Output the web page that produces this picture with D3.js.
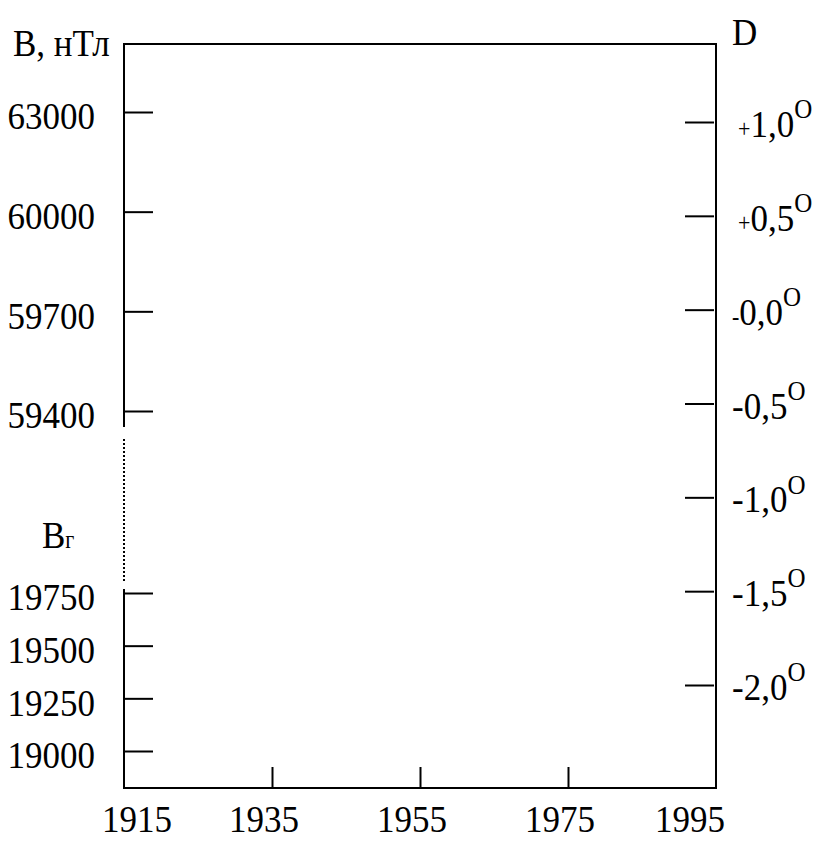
<!DOCTYPE html>
<html>
<head>
<meta charset="utf-8">
<script src="https://cdn.jsdelivr.net/npm/d3@7"></script>
<style>
  body { margin: 0; background: #fff; }
  svg { display: block; }
  text { font-family: "Liberation Serif", "Times New Roman", serif; fill: #000; }
</style>
</head>
<body>
<svg id="chart" width="817" height="851"></svg>
<script>
// данные осей
var years = [1915, 1935, 1955, 1975, 1995];
var yearTicks = [1935, 1955, 1975];
var bUpper = ["63000", "60000", "59700", "59400"];
var bLower = [19750, 19500, 19250, 19000];
var dValues = [1, 0.5, 0, -0.5, -1, -1.5, -2];
var dLabels = ["+1,0", "+0,5", "-0,0", "-0,5", "-1,0", "-1,5", "-2,0"];

var svg = d3.select("#chart");
var x0 = 124, x1 = 716, y0 = 44, y1 = 788;
var fs = 35;
var stretch = " scale(1,1.1)";   // шрифт в оригинале вытянут по вертикали

var x = d3.scaleLinear().domain([1915, 1995]).range([x0, x1]);
var yUp = d3.scalePoint().domain(bUpper).range([112, 411]);
var yLow = d3.scaleLinear().domain([19000, 19750]).range([751, 593]);
var yD = d3.scaleLinear().domain([-2, 1]).range([685, 122]);

// рамка
var frame = svg.append("g").attr("stroke", "#000").attr("stroke-width", 2).attr("fill", "none");
frame.append("path").attr("d", "M" + x0 + "," + y0 + "H" + x1 + "V" + y1 + "H" + x0);
frame.append("line").attr("x1", x0).attr("x2", x0).attr("y1", y0 - 1).attr("y2", 427);
frame.append("line").attr("x1", x0).attr("x2", x0).attr("y1", 589).attr("y2", y1 + 1);
frame.append("line").attr("x1", x0).attr("x2", x0).attr("y1", 439).attr("y2", 582)
    .attr("stroke-dasharray", "2,2");

function styleAxis(g) {
    g.select(".domain").remove();
    g.selectAll(".tick line").attr("stroke", "#000").attr("stroke-width", 2);
    g.selectAll(".tick text").attr("font-size", fs).attr("fill", "#000")
        .attr("font-family", "Liberation Serif, serif")
        .attr("dy", "0.44em")
        .attr("transform", stretch);
}

// левая ось, B
svg.append("g").attr("transform", "translate(" + x0 + ",0)")
    .call(d3.axisLeft(yUp).tickSize(-29).tickPadding(29))
    .call(styleAxis);

svg.append("g").attr("transform", "translate(" + x0 + ",0)")
    .call(d3.axisLeft(yLow).tickValues(bLower).tickFormat(d3.format("d")).tickSize(-29).tickPadding(29))
    .call(styleAxis);

// правая ось, D
svg.append("g").attr("transform", "translate(" + (x1 - 2) + ",0)")
    .call(d3.axisRight(yD).tickValues(dValues).tickFormat("").tickSize(-29))
    .call(styleAxis);

var dl = svg.append("g").selectAll("text").data(dValues).enter().append("text")
    .attr("transform", function (d, i) {
        var px = dLabels[i][0] == "+" ? x1 + 22 : x1 + 16;
        return "translate(" + px + "," + (yD(d) + 15) + ")" + stretch;
    })
    .attr("font-size", fs);
dl.append("tspan")
    .attr("font-size", function (d, i) { return (dLabels[i][0] == "+" || d == 0) ? 22 : fs; })
    .text(function (d, i) { return dLabels[i][0]; });
dl.append("tspan").text(function (d, i) { return dLabels[i].slice(1); });
dl.append("tspan").attr("font-size", 25).attr("dy", -17).text("O");

// нижняя ось
svg.append("g").attr("transform", "translate(0," + (y1 - 1) + ")")
    .call(d3.axisBottom(x).tickValues(yearTicks).tickFormat("").tickSize(-20))
    .call(styleAxis);

svg.append("g").selectAll("text").data(years).enter().append("text")
    .attr("transform", function (d) {
        var px = Math.min(Math.max(x(d) - 8, x0 + 13), x1 - 26);
        return "translate(" + px + ",832)" + stretch;
    })
    .attr("text-anchor", "middle")
    .attr("font-size", fs)
    .text(function (d) { return d; });

// подписи
svg.append("text").attr("transform", "translate(13,56)" + stretch).attr("font-size", fs).text("B, нТл");
svg.append("text").attr("transform", "translate(732,45)" + stretch).attr("font-size", fs).text("D");
var bg = svg.append("text").attr("transform", "translate(42,548)" + stretch).attr("font-size", fs);
bg.append("tspan").text("B");
bg.append("tspan").attr("font-size", 22).text("г");
</script>
</body>
</html>
